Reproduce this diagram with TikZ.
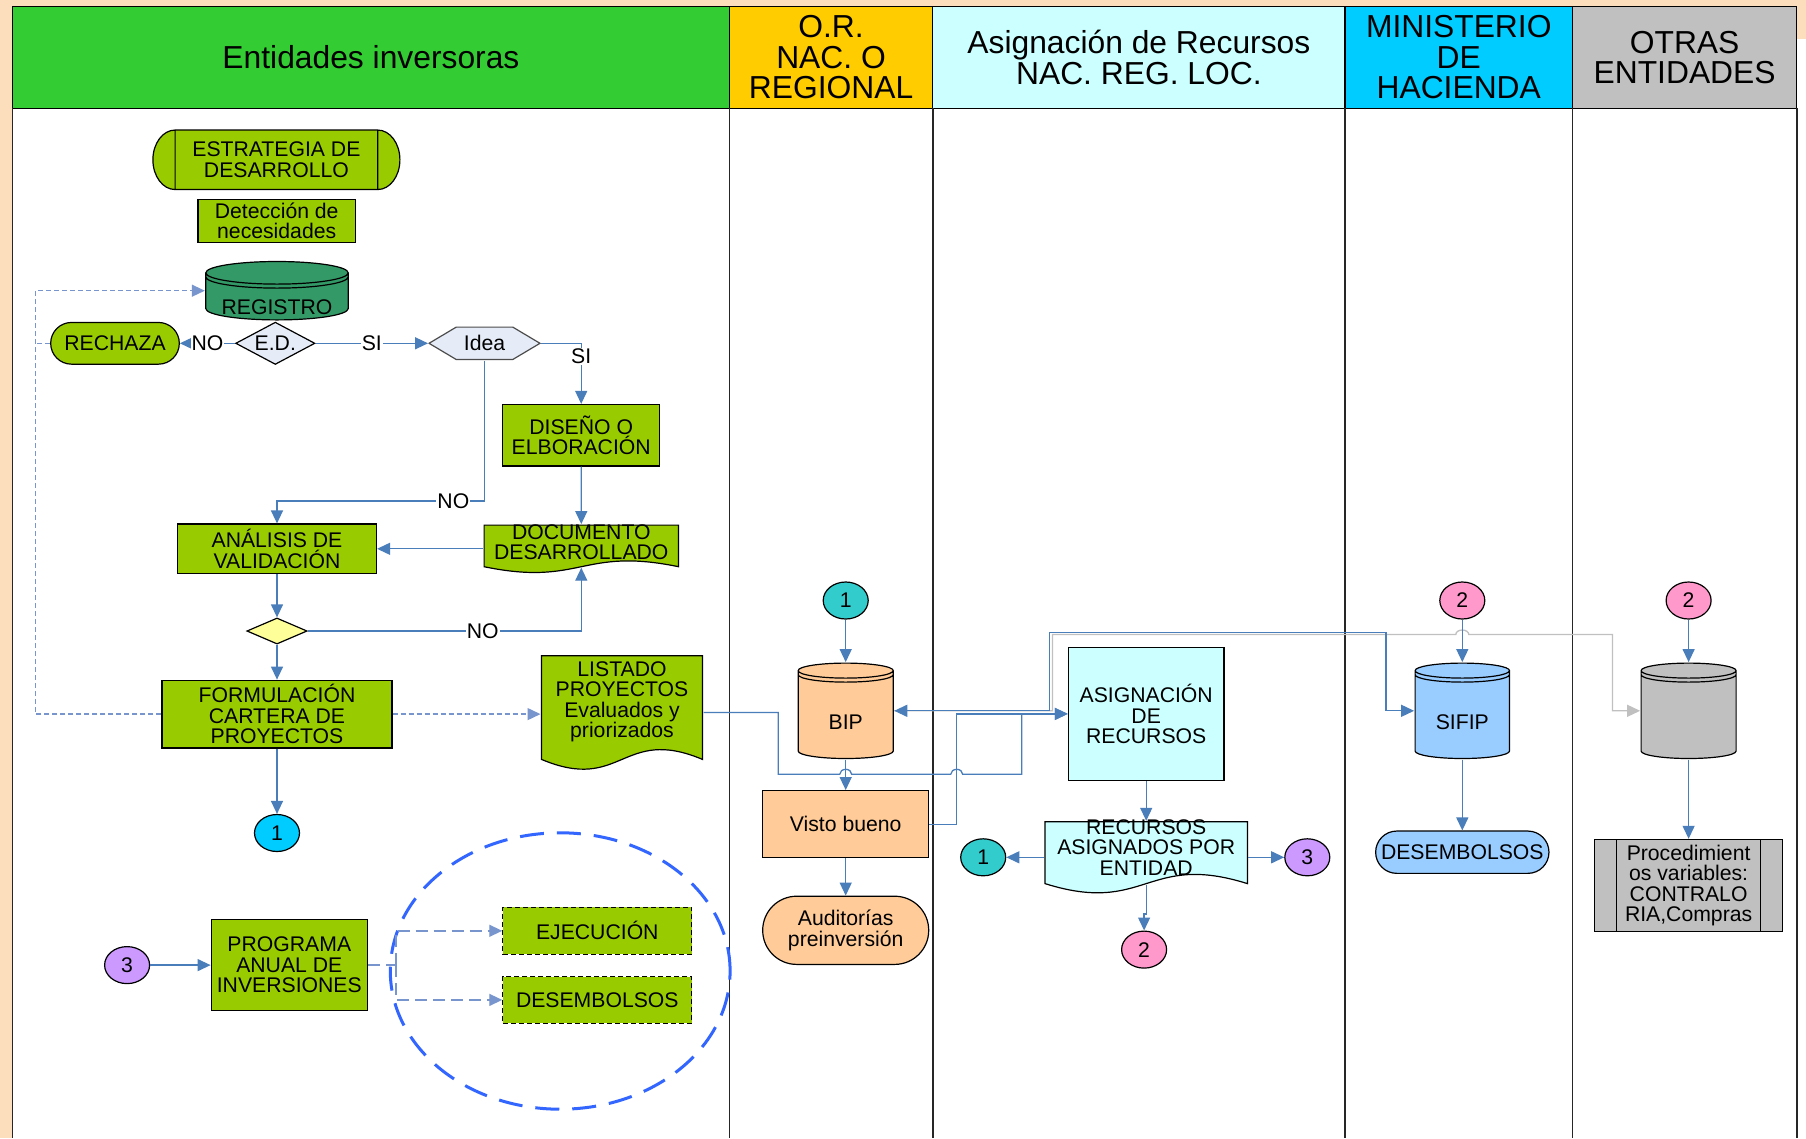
\documentclass[tikz,border=0pt]{standalone}
\usepackage{fontspec}
\setmainfont{Liberation Sans}
\usetikzlibrary{shapes.geometric,arrows.meta,calc}

\definecolor{peach}{RGB}{252,222,188}
\definecolor{hgreen}{RGB}{51,204,51}
\definecolor{hgold}{RGB}{255,204,0}
\definecolor{hpale}{RGB}{204,255,255}
\definecolor{hcyan}{RGB}{0,204,255}
\definecolor{hgray}{RGB}{192,192,192}
\definecolor{lime}{RGB}{153,204,0}
\definecolor{regg}{RGB}{51,153,102}
\definecolor{lilac}{RGB}{230,236,247}
\definecolor{pyellow}{RGB}{255,255,153}
\definecolor{teal1}{RGB}{51,204,204}
\definecolor{purp}{RGB}{204,153,255}
\definecolor{pink1}{RGB}{255,153,204}
\definecolor{apricot}{RGB}{255,204,153}
\definecolor{skyb}{RGB}{153,204,255}
\definecolor{flowblue}{RGB}{74,126,187}
\definecolor{dashblue}{RGB}{120,150,205}
\definecolor{loopblue}{RGB}{51,102,255}

\newcommand{\boxfont}{\fontsize{21.2}{20.5}\selectfont}
\newcommand{\hdrfont}{\fontsize{31.8}{30.4}\selectfont}

\tikzset{
  dbcyl/.style 2 args={path picture={
    \draw[draw=black, line width=1.2pt, fill=#1]
      let \p1=(path picture bounding box.north west),
          \p2=(path picture bounding box.south east),
          \n1={(\x2-\x1)/2-0.8}
      in (\x1+0.8pt,\y1-#2-0.8pt) -- (\x1+0.8pt,\y2+#2+0.8pt)
         arc[start angle=180, end angle=360, x radius={\n1*1pt}, y radius=#2]
         -- (\x2-0.8pt,\y1-#2-0.8pt)
         arc[start angle=0, end angle=180, x radius={\n1*1pt}, y radius=#2] -- cycle
         (\x1+0.8pt,\y1-#2-0.8pt) arc[start angle=180, end angle=360, x radius={\n1*1pt}, y radius=#2]
         (\x1+0.8pt,\y1-#2-4.8pt) arc[start angle=180, end angle=360, x radius={\n1*1pt}, y radius=#2];
  }},
  docu/.style 2 args={path picture={
    \draw[draw=black, line width=1.2pt, fill=#1]
      let \p1=(path picture bounding box.north west),
          \p2=(path picture bounding box.south east)
      in (\x1+0.8pt,\y1-0.8pt) -- (\x2-0.8pt,\y1-0.8pt) -- (\x2-0.8pt,\y2+#2+0.8pt)
         .. controls ({(\x1+\x2)/2},\y2+#2+0.8pt+3.46*#2) and ({(\x1+\x2)/2},\y2+#2+0.8pt-3.46*#2) ..
         (\x1+0.8pt,\y2+#2+0.8pt) -- cycle;
  }},
  hexa/.style 2 args={path picture={
    \draw[draw=black!70, line width=1.2pt, fill=#1]
      let \p1=(path picture bounding box.north west),
          \p2=(path picture bounding box.south east)
      in (\x1+0.8pt,{(\y1+\y2)/2}) -- (\x1+#2,\y1-0.8pt) -- (\x2-#2,\y1-0.8pt)
         -- (\x2-0.8pt,{(\y1+\y2)/2}) -- (\x2-#2,\y2+0.8pt) -- (\x1+#2,\y2+0.8pt) -- cycle;
  }},
  capsule/.style 2 args={path picture={
    \draw[draw=black, line width=1.2pt, fill=#1]
      let \p1=(path picture bounding box.north west),
          \p2=(path picture bounding box.south east),
          \n1={(\y1-\y2)/2-0.8}
      in (\x1+#2,\y1-0.8pt) -- (\x2-#2,\y1-0.8pt)
         arc[start angle=90, end angle=-90, x radius=#2-0.8pt, y radius={\n1*1pt}]
         -- (\x1+#2,\y2+0.8pt)
         arc[start angle=270, end angle=90, x radius=#2-0.8pt, y radius={\n1*1pt}] -- cycle
         (\x1+#2,\y1-0.8pt) -- (\x1+#2,\y2+0.8pt)
         (\x2-#2,\y1-0.8pt) -- (\x2-#2,\y2+0.8pt);
  }},
  bars/.style={path picture={
    \draw[line width=1.2pt]
      ([xshift=#1]path picture bounding box.north west) -- ([xshift=#1]path picture bounding box.south west)
      ([xshift=-#1]path picture bounding box.north east) -- ([xshift=-#1]path picture bounding box.south east);
  }}
}

\begin{document}
\begin{tikzpicture}[x=1pt, y=-1pt, >={Triangle[length=13pt,width=12pt]},
  every node/.style={font=\boxfont, inner sep=0pt, align=center},
  hdr/.style={rectangle, draw, line width=1.2pt, font=\hdrfont, minimum height=101.8},
  box/.style={rectangle, draw, line width=1.2pt, fill=lime},
  term/.style={rectangle, draw, line width=1.2pt, rounded corners=#1},
  dec/.style={diamond, draw, line width=1.2pt},
  conn/.style={ellipse, draw, line width=1.2pt, minimum width=45, minimum height=37},
  lbl/.style={fill=white, inner sep=1pt},
  flow/.style={draw=flowblue, line width=1.3pt, ->},
  gflow/.style={draw=hgray, line width=1.3pt, ->},
  dline/.style={draw=dashblue, line width=1.4pt, dash pattern=on 5pt off 3pt},
  dflow/.style={dline, ->},
  pline/.style={draw=dashblue, line width=1.4pt, dash pattern=on 12pt off 6pt},
  pflow/.style={pline, ->}]

\useasboundingbox (0,0) rectangle (1806,1138);
\fill[peach] (0,0) rectangle (1806,1138);
\fill[white] (12.6,6.4) rectangle (1806,1138);
\fill[peach] (1796.7,0) rectangle (1806,39);

% lanes
\node[hdr, fill=hgreen, minimum width=716.7] (hEnt) at (370.95,57.3) {Entidades inversoras};
\node[hdr, fill=hgold, minimum width=203.5] (hOR) at (831.05,57.3) {O.R.\\NAC. O\\REGIONAL};
\node[hdr, fill=hpale, minimum width=412.2] (hAsig) at (1138.9,57.3) {Asignación de Recursos\\NAC. REG. LOC.};
\node[hdr, fill=hcyan, minimum width=227.5] (hMin) at (1458.75,57.3) {MINISTERIO\\DE\\HACIENDA};
\node[hdr, fill=hgray, minimum width=224.2] (hOtras) at (1684.6,57.3) {OTRAS\\ENTIDADES};
\foreach \x in {12.6,729.3,932.8,1345,1572.5,1796.7}
  \draw[line width=1.6pt, black!85] (\x,108.2) -- (\x,1138);

% entidades inversoras
\node[capsule={lime}{23pt}, minimum width=248.6, minimum height=61.1] (estr) at (276.4,159.8) {ESTRATEGIA DE\\DESARROLLO};
\node[box, minimum width=157.3, minimum height=43.2] (detec) at (276.7,220.8) {Detección de\\necesidades};
\node[dbcyl={regg}{11.3pt}, minimum width=144, minimum height=60, text height=48.4pt, text depth=0pt] (reg) at (277,290.7) {REGISTRO};
\node[term=20.8pt, fill=lime, minimum width=128.6, minimum height=41.7] (rech) at (115,343.3) {RECHAZA};
\node[dec, fill=lilac, aspect=1.875, minimum width=79.3, minimum height=42.3] (ed) at (275.3,343.3) {E.D.};
\node[hexa={lilac}{28pt}, minimum width=112.5, minimum height=34] (idea) at (484.5,343.3) {Idea};
\node[box, minimum width=156.7, minimum height=61.4] (dis) at (581.2,435.2) {DISEÑO O\\ELBORACIÓN};
\node[box, minimum width=199, minimum height=49.6] (ana) at (277,548.8) {ANÁLISIS DE\\VALIDACIÓN};
\node[docu={lime}{5.8pt}, minimum width=196, minimum height=49,
  label={[yshift=6.8pt]center:{DOCUMENTO\\DESARROLLADO}}] (doc) at (581.3,548.8) {};
\node[dec, fill=pyellow, aspect=2.31, minimum width=60.3, minimum height=26.1] (val) at (277,631) {};
\node[box, minimum width=230, minimum height=67.8] (form) at (277,714.1) {FORMULACIÓN\\CARTERA DE\\PROYECTOS};
\node[docu={lime}{9.8pt}, minimum width=162.6, minimum height=115,
  label={[yshift=10.8pt]center:{LISTADO\\PROYECTOS\\Evaluados y\\priorizados}}] (list) at (622,712.5) {};
\node[conn, fill=hcyan] (c1a) at (277,833) {1};
\node[conn, fill=purp] (c3a) at (127.1,965.1) {3};
\node[box, minimum width=156.2, minimum height=91.4] (pai) at (289.3,965.1) {PROGRAMA\\ANUAL DE\\INVERSIONES};
\node[ellipse, draw=loopblue, line width=3pt, dash pattern=on 24pt off 13pt,
  minimum width=339.8, minimum height=276.4] (grp) at (560.2,971) {};
\node[box, dash pattern=on 5pt off 3pt, minimum width=188.9, minimum height=47.2] (eje) at (597.3,930.8) {EJECUCIÓN};
\node[box, dash pattern=on 5pt off 3pt, minimum width=188.9, minimum height=46.8] (desA) at (597.3,999.9) {DESEMBOLSOS};

% O.R. nacional o regional
\node[conn, fill=teal1] (c1b) at (845.7,600.5) {1};
\node[dbcyl={apricot}{7.5pt}, minimum width=96.7, minimum height=97, text height=37.2pt, text depth=0pt] (bip) at (845.7,710.8) {BIP};
\node[box, fill=apricot, minimum width=166, minimum height=67.1] (vb) at (845.7,824.2) {Visto bueno};
\node[term=34pt, fill=apricot, minimum width=166, minimum height=68.2] (aud) at (845.7,930.3) {Auditorías\\preinversión};

% asignacion de recursos
\node[box, fill=hpale, minimum width=155.7, minimum height=133] (asig) at (1146.2,713.9) {ASIGNACIÓN\\DE\\RECURSOS};
\node[docu={hpale}{9.2pt}, minimum width=204, minimum height=72.6,
  label={[yshift=9.8pt]center:{RECURSOS\\ASIGNADOS POR\\ENTIDAD}}] (rec) at (1146.2,857.3) {};
\node[conn, fill=teal1] (c1c) at (983.2,857.3) {1};
\node[conn, fill=purp] (c3b) at (1307.3,857.3) {3};
\node[conn, fill=pink1] (c2a) at (1144.1,949.6) {2};

% ministerio de hacienda
\node[conn, fill=pink1] (c2b) at (1462.3,600.5) {2};
\node[dbcyl={skyb}{7.5pt}, minimum width=96, minimum height=97, text height=37.2pt, text depth=0pt] (sifip) at (1462.3,710.8) {SIFIP};
\node[term=21.1pt, fill=skyb, minimum width=173.3, minimum height=42.3] (desB) at (1462.3,852.2) {DESEMBOLSOS};

% otras entidades
\node[conn, fill=pink1] (c2c) at (1688.6,600.5) {2};
\node[dbcyl={hgray}{7.5pt}, minimum width=96.6, minimum height=97] (grayc) at (1688.6,710.8) {};
\node[box, fill=hgray, bars=22pt, minimum width=188.4, minimum height=91.8] (proc) at (1688.6,885.3) {Procedimient\\os variables:\\CONTRALO\\RIA,Compras};

% flujos
\draw[flow] (ed) -- node[lbl]{NO} (rech);
\draw[flow] (ed) -- node[lbl]{SI} (idea);
\draw[flow] (idea.east) -| node[lbl, pos=0.61]{SI} (dis.north);
\draw[flow] (idea.south) |- node[lbl, pos=0.575]{NO} ([yshift=22.4pt]ana.north) -- (ana.north);
\draw[flow] (dis) -- (doc);
\draw[flow] (doc.west) -- (ana.east);
\draw[flow] (ana) -- (val);
\draw[flow] (val.east) -| node[lbl, pos=0.32]{NO} ([yshift=5.8pt]doc.south);
\draw[flow] (val) -- (form);
\draw[flow] (form) -- (c1a);
\draw[dflow] (form.east) -- (form.east -| list.west);
\coordinate (bus) at (35.6,500);
\draw[dflow] (form.west) -| (bus) |- (reg.west);
\draw[dline] (rech.west) -- (rech.west -| bus);
\draw[flow] (c3a) -- (pai);
\coordinate (fork) at (396,965.1);
\draw[pline] (pai.east) -- (fork);
\draw[pflow] (fork) |- (eje.west);
\draw[pflow] (fork) |- (desA.west);

\draw[flow] (c1b) -- (bip);
\draw[flow] (bip) -- (vb);
\draw[flow] (vb) -- (aud);
\draw[flow] (list.east) -- (778.3,712.5) -- (778.3,774.3) -- (839.7,774.3)
  arc[start angle=180, end angle=0, x radius=6pt, y radius=5pt] -- (950.7,774.3)
  arc[start angle=180, end angle=0, x radius=6pt, y radius=5pt] -- (1021.7,774.3) |- (asig.west);
\draw[flow] (vb.east) -- (956.7,824.2) |- (asig.west);
\draw[gflow] (bip.east) -- (1052.5,710.8) |- (1455.8,634.5)
  arc[start angle=180, end angle=0, x radius=6.5pt, y radius=4.5pt] -- (1612.5,634.5) |- (grayc.west);
\draw[flow, <->] (bip.east) -- (1049.3,710.8) |- (1386,632.3) |- (sifip.west);
\draw[flow] (asig) -- (rec);
\draw[flow] (rec.west) -- (c1c);
\draw[flow] (rec.east) -- (c3b);
\draw[flow] ([yshift=9.2pt]rec.south) -- ++(0,29.4) -| (c2a.north);
\draw[flow] (c2b) -- (sifip);
\draw[flow] (sifip) -- (desB);
\draw[flow] (c2c) -- (grayc);
\draw[flow] (grayc) -- (proc);
\end{tikzpicture}
\end{document}
